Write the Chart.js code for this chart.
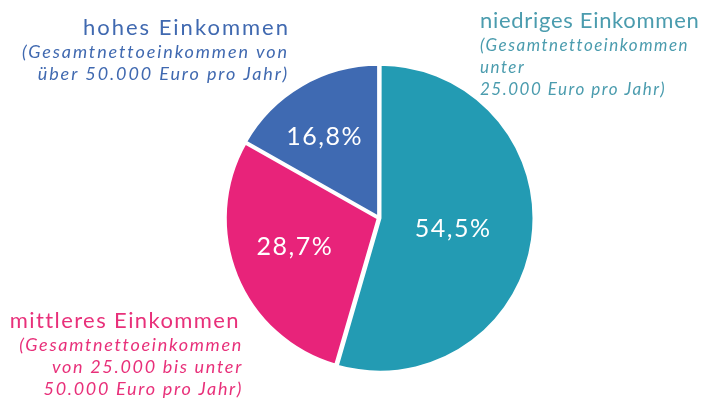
<!DOCTYPE html>
<html>
<head>
<meta charset="utf-8">
<script src="https://cdn.jsdelivr.net/npm/chart.js@4"></script>
<style>
  html, body { margin: 0; padding: 0; background: #fff; }
  #wrap { width: 703px; height: 400px; position: relative; }
</style>
</head>
<body>
<div id="wrap"><canvas id="pie"></canvas></div>
<script>
// Einkommensgruppen und Anteile (in %)
const categories = ['niedriges Einkommen', 'mittleres Einkommen', 'hohes Einkommen'];
const shares = [54.5, 28.7, 16.8];
const subtitles = [
    ['(Gesamtnettoeinkommen', 'unter', '25.000 Euro pro Jahr)'],
    ['(Gesamtnettoeinkommen', 'von 25.000 bis unter', '50.000 Euro pro Jahr)'],
    ['(Gesamtnettoeinkommen von', 'über 50.000 Euro pro Jahr)']
];
const sliceColors = ['#239bb3', '#e8237a', '#3f6ab2'];
const textColors = ['#4b9cae', '#e8307a', '#4069b0'];

const FONT = 'Lato, "Open Sans", sans-serif';

// callout blocks beside the pie
const callouts = [
    { x: 480, y: 28, align: 'left', subX: 480, titleSpacing: 0.7, subSize: 17, subSpacing: 1.5 },
    { x: 240, y: 328, align: 'right', subX: 243, titleSpacing: 1.4, subSize: 18, subSpacing: 1.7 },
    { x: 290, y: 35, align: 'right', subX: 289, titleSpacing: 2, subSize: 18, subSpacing: 1.9 }
];
// value label placement: fraction of the radius, angle tweak (rad)
const labelRadius = [0.49, 0.58, 0.64];
const labelTurn = [0.01, 0.06, -0.06];

const fmt = v => v.toFixed(1).replace('.', ',') + '%';

const labelPlugin = {
    id: 'labels',
    afterDatasetsDraw(chart) {
        const ctx = chart.ctx;
        const meta = chart.getDatasetMeta(0);
        ctx.save();
        ctx.textBaseline = 'middle';
        ctx.textAlign = 'center';
        ctx.fillStyle = '#fff';
        ctx.font = '400 25px ' + FONT;
        ctx.letterSpacing = '1.5px';
        meta.data.forEach((arc, i) => {
            const p = arc.getProps(['x', 'y', 'startAngle', 'endAngle', 'outerRadius'], true);
            const mid = (p.startAngle + p.endAngle) / 2 + labelTurn[i];
            const r = p.outerRadius * labelRadius[i];
            ctx.fillText(fmt(shares[i]), p.x + Math.cos(mid) * r, p.y + Math.sin(mid) * r);
        });

        ctx.textBaseline = 'alphabetic';
        callouts.forEach((c, i) => {
            ctx.fillStyle = textColors[i];
            ctx.textAlign = c.align;
            ctx.font = '400 22px ' + FONT;
            ctx.letterSpacing = c.titleSpacing + 'px';
            ctx.fillText(categories[i], c.x, c.y);
            ctx.font = 'italic 400 ' + c.subSize + 'px ' + FONT;
            ctx.letterSpacing = c.subSpacing + 'px';
            subtitles[i].forEach((line, j) => {
                ctx.fillText(line, c.subX, c.y + 23 + j * 22);
            });
        });
        ctx.restore();
    }
};

new Chart(document.getElementById('pie'), {
    type: 'pie',
    data: {
        labels: categories,
        datasets: [{
            data: shares,
            backgroundColor: sliceColors,
            borderColor: '#fff',
            borderWidth: 3,
            offset: [4, 3, 3],
            hoverOffset: 0
        }]
    },
    options: {
        responsive: true,
        maintainAspectRatio: false,
        animation: false,
        radius: 153,
        layout: { padding: { left: 55, right: 0, top: 36, bottom: 0 } },
        plugins: { legend: { display: false }, tooltip: { enabled: false } }
    },
    plugins: [labelPlugin]
});
</script>
</body>
</html>
